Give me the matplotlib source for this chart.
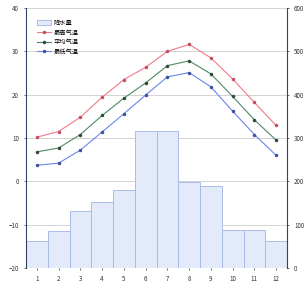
import numpy as np
import matplotlib
matplotlib.use('Agg')
import matplotlib.pyplot as plt

plt.rcParams['font.family'] = ['Noto Sans CJK SC', 'DejaVu Sans']

months = [1, 2, 3, 4, 5, 6, 7, 8, 9, 10, 11, 12]
rain = [62, 85, 132, 152, 180, 316, 316, 199, 189, 88, 88, 62]
t_max = [10.2, 11.5, 14.8, 19.4, 23.5, 26.3, 30.0, 31.6, 28.5, 23.6, 18.2, 12.9]
t_avg = [6.8, 7.7, 10.8, 15.2, 19.2, 22.7, 26.7, 27.8, 24.8, 19.6, 14.2, 9.5]
t_min = [3.7, 4.2, 7.2, 11.4, 15.6, 19.9, 24.1, 25.1, 21.8, 16.2, 10.8, 6.0]
left_ticks = [-20, -10, 0, 10, 20, 30, 40]
right_ticks = [0, 100, 200, 300, 400, 500, 600]

fig = plt.figure(figsize=(3.05, 2.86), dpi=100)
ax = fig.add_axes([26/305, 18/286, 261/305, 260/286])
ax2 = ax.twinx()

# bars on the right axis, drawn below the lines
ax.set_zorder(2)
ax.patch.set_visible(False)
ax2.set_zorder(1)

ax2.bar(months, rain, width=1.0, color='#e3ebfa', edgecolor='#a9bce8',
        linewidth=0.7, label='降水量', zorder=2)
ax2.set_ylim(0, 600)
ax2.set_yticks(right_ticks)
for v in left_ticks:
    ax2.axhline((v + 20) * 10, color='#cccccc', linewidth=0.6, zorder=1)

l1, = ax.plot(months, t_max, color='#f07a8a', lw=0.8, marker='o', ms=1.5,
              mfc='#c05060', mec='#c05060', label='最高气温')
l2, = ax.plot(months, t_avg, color='#4e8a64', lw=0.8, marker='o', ms=1.5,
              mfc='#304a38', mec='#304a38', label='平均气温')
l3, = ax.plot(months, t_min, color='#6a86ec', lw=0.8, marker='o', ms=1.5,
              mfc='#4050a0', mec='#4050a0', label='最低气温')
ax.set_ylim(-20, 40)
ax.set_yticks(left_ticks)
ax.set_xlim(0.5, 12.5)
ax.set_xticks(months)

for a in (ax, ax2):
    a.tick_params(labelsize=4.5, length=1.5, width=0.5, colors='#333333')
    a.spines['top'].set_visible(False)
    a.spines['bottom'].set_visible(False)
ax.spines['left'].set_color('#334466')
ax.spines['left'].set_linewidth(0.8)
ax2.spines['right'].set_color('#334466')
ax2.spines['right'].set_linewidth(0.8)
ax2.spines['left'].set_visible(False)
ax.spines['right'].set_visible(False)

handles = [ax2.containers[0], l1, l2, l3]
ax.legend(handles, [h.get_label() for h in handles], loc='upper left',
          bbox_to_anchor=(0.02, 0.98), fontsize=4.5, frameon=False,
          handlelength=2.2, labelspacing=0.25, handletextpad=0.5)

fig.savefig('out.png', dpi=100)
